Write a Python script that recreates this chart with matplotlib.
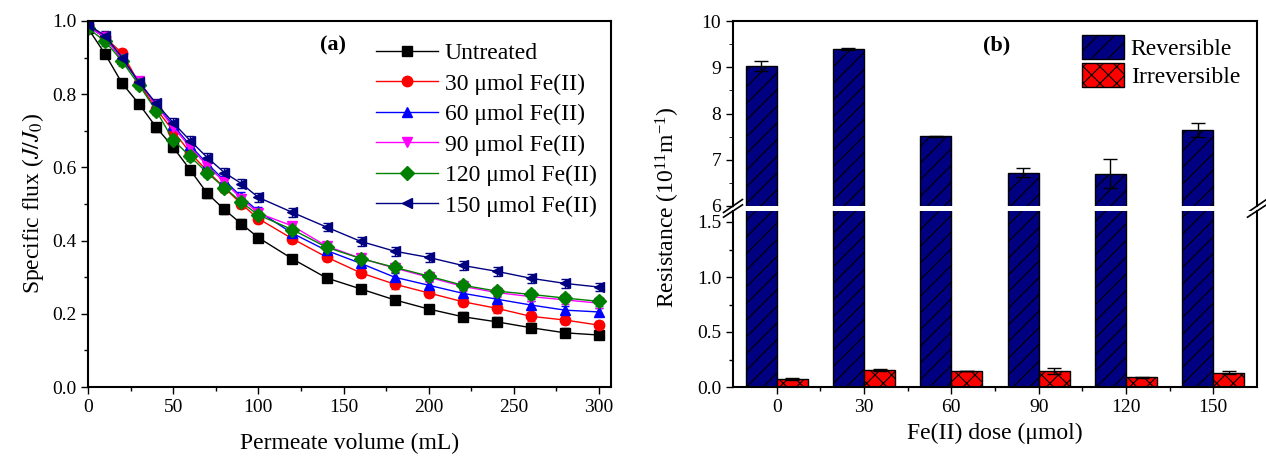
import numpy as np
import matplotlib
matplotlib.use('Agg')
from matplotlib import pyplot as plt
from matplotlib.ticker import MultipleLocator, FormatStrFormatter

plt.rcParams['font.family'] = ['Liberation Serif', 'DejaVu Serif']
plt.rcParams['mathtext.fontset'] = 'stix'
plt.rcParams['hatch.linewidth'] = 0.8

# (a) specific flux vs permeate volume
volume = [0, 10, 20, 30, 40, 50, 60, 70, 80, 90, 100, 120, 140, 160, 180, 200, 220, 240, 260, 280, 300]
untreated = [0.98, 0.91, 0.83, 0.773, 0.71, 0.655, 0.593, 0.529, 0.485, 0.446, 0.408, 0.35, 0.298,
             0.268, 0.238, 0.213, 0.192, 0.178, 0.162, 0.148, 0.142]
fe30 = [0.99, 0.955, 0.912, 0.83, 0.76, 0.70, 0.64, 0.59, 0.545, 0.50, 0.46, 0.405, 0.355,
        0.312, 0.281, 0.257, 0.233, 0.215, 0.193, 0.183, 0.169]
fe60 = [0.985, 0.955, 0.895, 0.835, 0.77, 0.715, 0.66, 0.61, 0.565, 0.52, 0.48, 0.42, 0.373,
        0.338, 0.30, 0.278, 0.256, 0.24, 0.224, 0.21, 0.205]
fe90 = [0.985, 0.955, 0.895, 0.835, 0.77, 0.71, 0.655, 0.605, 0.56, 0.515, 0.475, 0.44, 0.385,
        0.352, 0.325, 0.30, 0.275, 0.258, 0.247, 0.238, 0.229]
fe120 = [0.98, 0.945, 0.89, 0.825, 0.755, 0.675, 0.63, 0.585, 0.545, 0.505, 0.47, 0.43, 0.382,
         0.351, 0.327, 0.303, 0.278, 0.262, 0.253, 0.243, 0.234]
fe150 = [0.99, 0.96, 0.90, 0.832, 0.775, 0.722, 0.673, 0.627, 0.586, 0.556, 0.518, 0.477, 0.437,
         0.398, 0.371, 0.354, 0.332, 0.316, 0.297, 0.283, 0.273]
flux_err = 0.012

series = [
    (untreated, 'Untreated', 'black', 's'),
    (fe30, '30 \u03bcmol Fe(II)', 'red', 'o'),
    (fe60, '60 \u03bcmol Fe(II)', 'blue', '^'),
    (fe90, '90 \u03bcmol Fe(II)', 'magenta', 'v'),
    (fe120, '120 \u03bcmol Fe(II)', 'green', 'D'),
    (fe150, '150 \u03bcmol Fe(II)', 'navy', '<'),
]

# (b) resistance
doses = ['0', '30', '60', '90', '120', '150']
reversible = [9.02, 9.39, 7.51, 6.72, 6.70, 7.64]
reversible_err = [0.11, 0.02, 0.01, 0.10, 0.31, 0.15]
irreversible = [0.07, 0.155, 0.145, 0.145, 0.09, 0.13]
irreversible_err = [0.008, 0.005, 0.004, 0.025, 0.004, 0.012]

W, H = 1266, 463
fig = plt.figure(figsize=(W / 100, H / 100), dpi=100)


def frac(x0, y0, x1, y1):
    return [x0 / W, 1 - y1 / H, (x1 - x0) / W, (y1 - y0) / H]


tick_kw = dict(direction='out', labelsize=14, width=1, top=False, right=False)

# ---- panel (a)
ax = fig.add_axes(frac(88, 21, 611, 387))
for vals, lab, col, mk in series:
    ax.errorbar(volume, vals, yerr=flux_err, color=col, marker=mk, markersize=7.5,
                linewidth=1, elinewidth=1, capsize=3, label=lab)
ax.set_xlim(0, 307)
ax.set_ylim(0, 1.0)
ax.xaxis.set_major_locator(MultipleLocator(50))
ax.xaxis.set_minor_locator(MultipleLocator(25))
ax.yaxis.set_major_locator(MultipleLocator(0.2))
ax.yaxis.set_minor_locator(MultipleLocator(0.1))
ax.yaxis.set_major_formatter(FormatStrFormatter('%.1f'))
ax.tick_params(which='major', length=5, **tick_kw)
ax.tick_params(which='minor', length=3, direction='out', width=1, top=False, right=False)
for s in ax.spines.values():
    s.set_linewidth(1.5)
ax.set_xlabel('Permeate volume (mL)', fontsize=17, labelpad=12)
ax.set_ylabel('Specific flux ($J/J_0$)', fontsize=17)
ax.text(0.469, 0.934, '(a)', transform=ax.transAxes, fontsize=16, fontweight='bold',
        ha='center', va='center')
handles, labels = ax.get_legend_handles_labels()
ax.legend([h[0] for h in handles], labels, loc='upper right', bbox_to_anchor=(1.0, 0.98),
          frameon=False, fontsize=17, handlelength=2.6, labelspacing=0.38, borderaxespad=0.2,
          handletextpad=0.3)

# ---- panel (b)
xpos = np.arange(len(doses))
bw = 0.355
ax_top = fig.add_axes(frac(733, 21, 1257, 206))
ax_bot = fig.add_axes(frac(733, 211, 1257, 387))
for a in (ax_top, ax_bot):
    a.bar(xpos - bw / 2, reversible, bw, yerr=reversible_err, color='#000080', edgecolor='black',
          hatch='//', linewidth=1, capsize=5, error_kw=dict(elinewidth=1, capthick=1),
          label='Reversible')
    a.bar(xpos + bw / 2, irreversible, bw, yerr=irreversible_err, color='#ff0000', edgecolor='black',
          hatch='xx', linewidth=1, capsize=5, error_kw=dict(elinewidth=1, capthick=1),
          label='Irreversible')
    a.set_xlim(-0.5, 5.5)
    for s in a.spines.values():
        s.set_linewidth(1.5)

ax_top.set_ylim(6, 10)
ax_top.yaxis.set_major_locator(MultipleLocator(1))
ax_top.yaxis.set_minor_locator(MultipleLocator(0.5))
ax_top.spines['bottom'].set_visible(False)
ax_top.tick_params(axis='x', which='both', bottom=False, labelbottom=False)
ax_top.tick_params(axis='y', which='major', length=5, **tick_kw)
ax_top.tick_params(axis='y', which='minor', length=3, direction='out', right=False)
ax_top.text(0.504, 0.87, '(b)', transform=ax_top.transAxes, fontsize=16, fontweight='bold',
            ha='center', va='center')
ax_top.legend(loc='upper right', bbox_to_anchor=(0.995, 1.0), frameon=False, fontsize=17,
              handlelength=1.75, handleheight=1.2, labelspacing=0.12, borderaxespad=0.2,
              handletextpad=0.3)

ax_bot.set_ylim(0, 1.6)
ax_bot.spines['top'].set_visible(False)
ax_bot.set_xticks(xpos)
ax_bot.set_xticklabels(doses)
ax_bot.set_xticks(xpos[:-1] + 0.5, minor=True)
ax_bot.yaxis.set_major_locator(MultipleLocator(0.5))
ax_bot.yaxis.set_minor_locator(MultipleLocator(0.25))
ax_bot.yaxis.set_major_formatter(FormatStrFormatter('%.1f'))
ax_bot.tick_params(which='major', length=5, **tick_kw)
ax_bot.tick_params(which='minor', length=3, direction='out', width=1, top=False, right=False)
ax_bot.set_xlabel('Fe(II) dose (\u03bcmol)', fontsize=17, labelpad=5)
fig.text(668 / W, 1 - 207 / H, 'Resistance ($\\mathregular{10^{11}m^{-1}}$)', rotation=90,
         fontsize=17, ha='center', va='center')

# break marks
for a, y in ((ax_top, 0.0), (ax_bot, 1.0)):
    for x in (0.0, 1.0):
        a.plot([x - 0.018, x + 0.018], [y - 0.035, y + 0.035], transform=a.transAxes,
               color='black', linewidth=1.2, clip_on=False)

fig.savefig('out.png', dpi=100)
